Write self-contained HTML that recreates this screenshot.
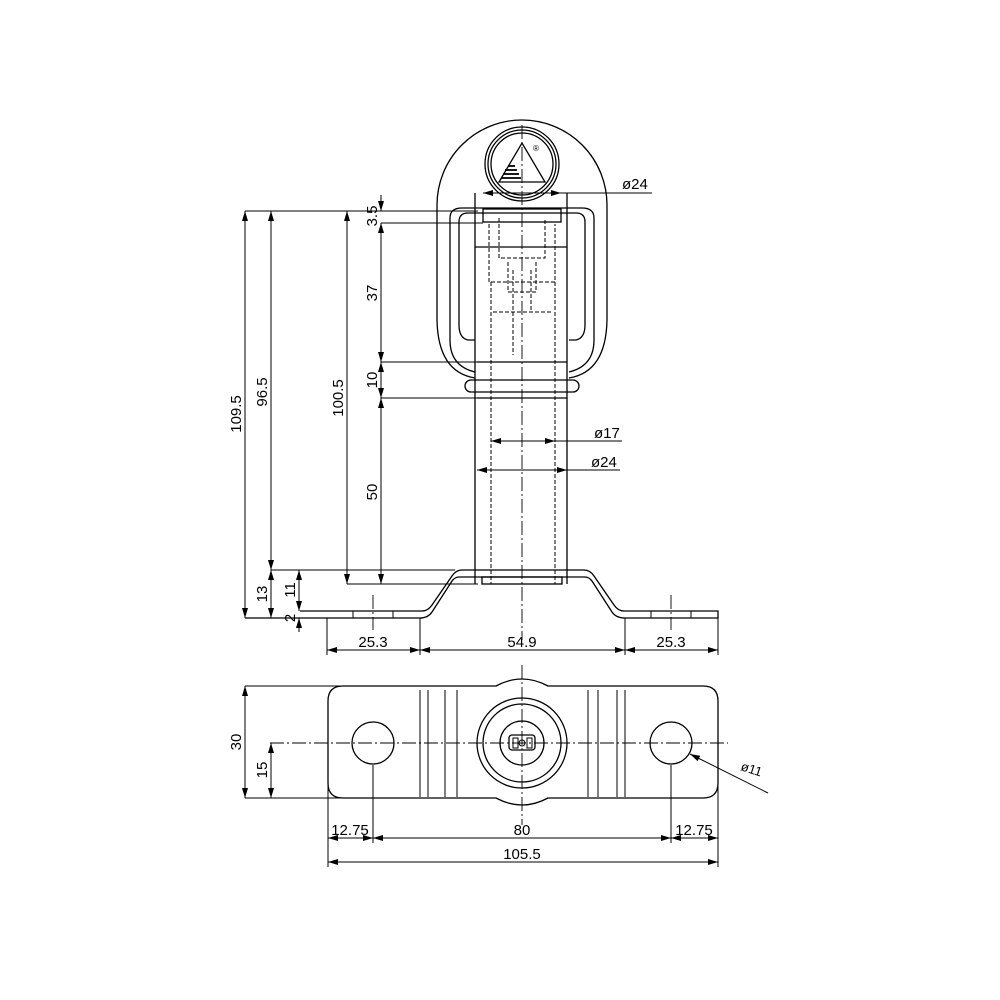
<!DOCTYPE html>
<html><head><meta charset="utf-8"><style>html,body{margin:0;padding:0;background:#fff}svg{display:block}</style></head>
<body>
<svg width="1000" height="1000" viewBox="0 0 1000 1000" xmlns="http://www.w3.org/2000/svg">
<defs>
<marker id="a" viewBox="0 0 10 6" refX="10" refY="3" markerWidth="10" markerHeight="6" orient="auto-start-reverse" markerUnits="userSpaceOnUse"><path d="M0,0 L10,3 L0,6 z" fill="#000"/></marker>
</defs>
<g fill="none" stroke="#000" stroke-width="1.3">
<path d="M475,378 Q438,372 437,320 L437,205 A85,85 0 0 1 607,205 L607,320 Q606,372 569,378"/>
<path d="M475,372 Q450,366 450,340 L450,218 Q450,208 462,208 L582,208 Q594,208 594,218 L594,340 Q594,366 569,372"/>
<path d="M475,340 L468,340 Q459,338 459,325 L459,222 Q459,213 468,213 L576,213 Q585,213 585,222 L585,325 Q585,338 576,340 L569,340"/>
<circle cx="522" cy="164" r="37"/><circle cx="522" cy="164" r="34"/><circle cx="522" cy="164" r="31"/>
<path d="M499,182 L522,143 L545,182 Z"/>
<line x1="475" y1="193" x2="475" y2="584"/><line x1="567" y1="193" x2="567" y2="584"/>
<rect x="483" y="209" width="78" height="13"/>
<line x1="475" y1="247" x2="567" y2="247"/>
<path d="M471,380 L573,380 A6,6 0 0 1 573,392 L471,392 A6,6 0 0 1 471,380 Z"/>
<line x1="477" y1="398" x2="567" y2="398"/>
<line x1="477" y1="362" x2="567" y2="362"/>
<g stroke-dasharray="4,2" stroke-width="1">
<path d="M489,224 L489,282 L555,282 L555,224"/>
<path d="M499,218 L499,258 L545,258 L545,218"/>
<path d="M508,262 L508,292 L536,292 L536,262"/>
<path d="M493,312 L551,312"/>
<line x1="491" y1="282" x2="491" y2="584"/><line x1="555" y1="282" x2="555" y2="584"/>
<line x1="513" y1="270" x2="513" y2="355"/><line x1="531" y1="270" x2="531" y2="312"/>
</g>
<path d="M300,611 L422,611 Q428,611 432,605 L452,576 Q456,570 462,570 L584,570 Q590,570 594,576 L614,605 Q618,611 624,611 L718,611 L718,618 L625,618 Q616,618 612,612 L592,581 Q589,577 585,577 L459,577 Q455,577 452,581 L432,612 Q428,618 420,618 L245,618"/>
<line x1="353" y1="611" x2="353" y2="618" stroke-width="1"/><line x1="393" y1="611" x2="393" y2="618" stroke-width="1"/>
<line x1="651" y1="611" x2="651" y2="618" stroke-width="1"/><line x1="691" y1="611" x2="691" y2="618" stroke-width="1"/>
<rect x="482" y="577" width="80" height="7"/>
<path d="M343,686 L496,686 Q522,672 548,686 L703,686 Q718,686 718,701 L718,783 Q718,798 703,798 L548,798 Q522,812 496,798 L343,798 Q328,798 328,783 L328,701 Q328,686 343,686 Z"/>
<circle cx="373" cy="743" r="21"/><circle cx="671" cy="743" r="21"/>
<circle cx="522" cy="743" r="45"/><circle cx="522" cy="743" r="39"/><circle cx="522" cy="743" r="22"/>
<rect x="509" y="735" width="26" height="15" rx="3"/>
<rect x="513" y="738" width="5" height="10" stroke-width="1"/><rect x="527" y="738" width="5" height="10" stroke-width="1"/>
<circle cx="522" cy="743" r="3" stroke-width="1"/>
<g stroke-width="1">
<line x1="420" y1="690" x2="420" y2="797"/><line x1="428" y1="690" x2="428" y2="797"/><line x1="445" y1="690" x2="445" y2="797"/><line x1="457" y1="690" x2="457" y2="797"/>
<line x1="588" y1="690" x2="588" y2="797"/><line x1="598" y1="690" x2="598" y2="797"/><line x1="617" y1="690" x2="617" y2="797"/><line x1="625" y1="690" x2="625" y2="797"/>
</g>
</g>
<g stroke="#000" stroke-width="0.9" stroke-dasharray="14,3,2,3" fill="none">
<line x1="522" y1="125" x2="522" y2="640"/>
<line x1="522" y1="665" x2="522" y2="825"/>
<line x1="270" y1="743" x2="728" y2="743"/>
<line x1="373" y1="595" x2="373" y2="630"/><line x1="671" y1="595" x2="671" y2="630"/>
</g>
<g stroke="#000" stroke-width="1" fill="none">
<line x1="245" y1="211" x2="478" y2="211"/><line x1="381" y1="223" x2="483" y2="223"/>
<line x1="381" y1="362" x2="478" y2="362"/><line x1="381" y1="398" x2="478" y2="398"/>
<line x1="271" y1="570" x2="455" y2="570"/><line x1="347" y1="584" x2="478" y2="584"/>
<line x1="245" y1="211" x2="245" y2="618" marker-start="url(#a)" marker-end="url(#a)"/>
<line x1="271" y1="211" x2="271" y2="570" marker-start="url(#a)" marker-end="url(#a)"/>
<line x1="347" y1="211" x2="347" y2="584" marker-start="url(#a)" marker-end="url(#a)"/>
<line x1="381" y1="195" x2="381" y2="211" marker-end="url(#a)"/>
<line x1="381" y1="223" x2="381" y2="362" marker-start="url(#a)" marker-end="url(#a)"/>
<line x1="381" y1="362" x2="381" y2="398" marker-start="url(#a)" marker-end="url(#a)"/>
<line x1="381" y1="398" x2="381" y2="584" marker-start="url(#a)" marker-end="url(#a)"/>
<line x1="271" y1="570" x2="271" y2="618" marker-start="url(#a)" marker-end="url(#a)"/>
<line x1="299" y1="570" x2="299" y2="611" marker-start="url(#a)" marker-end="url(#a)"/>
<line x1="299" y1="632" x2="299" y2="618" marker-end="url(#a)"/>
<line x1="483" y1="193" x2="561" y2="193" marker-start="url(#a)" marker-end="url(#a)"/>
<line x1="561" y1="193" x2="652" y2="193"/>
<line x1="491" y1="441" x2="555" y2="441" marker-start="url(#a)" marker-end="url(#a)"/><line x1="555" y1="441" x2="622" y2="441"/>
<line x1="477" y1="470" x2="567" y2="470" marker-start="url(#a)" marker-end="url(#a)"/><line x1="567" y1="470" x2="620" y2="470"/>
<line x1="327" y1="618" x2="327" y2="655"/><line x1="420" y1="618" x2="420" y2="655"/><line x1="625" y1="618" x2="625" y2="655"/><line x1="718" y1="618" x2="718" y2="655"/>
<line x1="327" y1="650" x2="420" y2="650" marker-start="url(#a)" marker-end="url(#a)"/>
<line x1="420" y1="650" x2="625" y2="650" marker-start="url(#a)" marker-end="url(#a)"/>
<line x1="625" y1="650" x2="718" y2="650" marker-start="url(#a)" marker-end="url(#a)"/>
<line x1="245" y1="686" x2="343" y2="686"/><line x1="245" y1="798" x2="343" y2="798"/>
<line x1="245" y1="686" x2="245" y2="798" marker-start="url(#a)" marker-end="url(#a)"/>
<line x1="271" y1="743" x2="271" y2="798" marker-start="url(#a)" marker-end="url(#a)"/>
<line x1="328" y1="785" x2="328" y2="867"/><line x1="718" y1="785" x2="718" y2="867"/>
<line x1="373" y1="765" x2="373" y2="843"/><line x1="671" y1="765" x2="671" y2="843"/>
<line x1="328" y1="838" x2="373" y2="838" marker-start="url(#a)" marker-end="url(#a)"/>
<line x1="373" y1="838" x2="671" y2="838" marker-start="url(#a)" marker-end="url(#a)"/>
<line x1="671" y1="838" x2="718" y2="838" marker-start="url(#a)" marker-end="url(#a)"/>
<line x1="328" y1="862" x2="718" y2="862" marker-start="url(#a)" marker-end="url(#a)"/>
<line x1="768" y1="793" x2="690" y2="754" marker-end="url(#a)"/>
</g>
<g font-family="Liberation Sans, sans-serif" font-size="15" fill="#000">
<text x="622" y="189">ø24</text>
<text x="594" y="438">ø17</text>
<text x="591" y="467">ø24</text>
<text transform="translate(241,414) rotate(-90)" text-anchor="middle">109.5</text>
<text transform="translate(267,392) rotate(-90)" text-anchor="middle">96.5</text>
<text transform="translate(343,398) rotate(-90)" text-anchor="middle">100.5</text>
<text transform="translate(377,216) rotate(-90)" text-anchor="middle">3.5</text>
<text transform="translate(377,293) rotate(-90)" text-anchor="middle">37</text>
<text transform="translate(377,380) rotate(-90)" text-anchor="middle">10</text>
<text transform="translate(377,492) rotate(-90)" text-anchor="middle">50</text>
<text transform="translate(267,594) rotate(-90)" text-anchor="middle">13</text>
<text transform="translate(295,590) rotate(-90)" text-anchor="middle">11</text>
<text transform="translate(295,618) rotate(-90)" text-anchor="middle">2</text>
<text x="373" y="647" text-anchor="middle">25.3</text>
<text x="522" y="647" text-anchor="middle">54.9</text>
<text x="671" y="647" text-anchor="middle">25.3</text>
<text transform="translate(241,742) rotate(-90)" text-anchor="middle">30</text>
<text transform="translate(267,770) rotate(-90)" text-anchor="middle">15</text>
<text x="350" y="835" text-anchor="middle">12.75</text>
<text x="522" y="835" text-anchor="middle">80</text>
<text x="694" y="835" text-anchor="middle">12.75</text>
<text x="522" y="859" text-anchor="middle">105.5</text>
<text transform="translate(740,770) rotate(18)" font-size="13">ø11</text>
<text x="533" y="151" font-size="8">®</text>
</g>
<g stroke="#000" stroke-width="1.8">
<line x1="508" y1="166" x2="515" y2="166"/><line x1="505" y1="170" x2="517" y2="170"/><line x1="503" y1="174" x2="519" y2="174"/><line x1="501" y1="178" x2="521" y2="178"/>
</g>
</svg>
</body></html>
